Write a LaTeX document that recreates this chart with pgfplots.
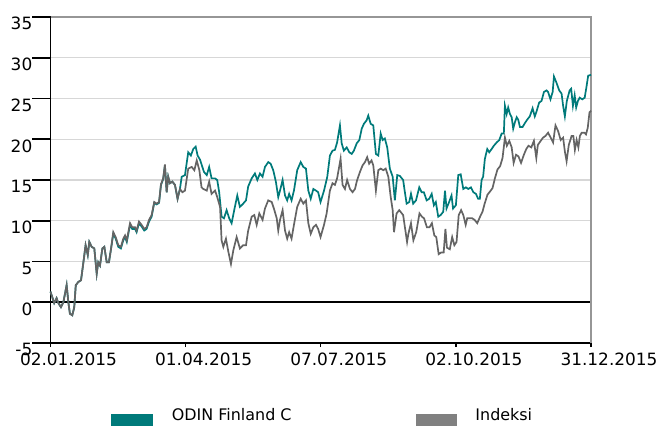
\documentclass[border=0pt]{standalone}
\usepackage{pgfplots}
\usepackage{pgfplotstable}
\pgfplotsset{compat=1.18}
\usepackage{fontspec}
\setmainfont{DejaVu Sans}
\definecolor{odin}{RGB}{0,122,122}
\definecolor{idx}{RGB}{100,100,100}
\definecolor{idxleg}{RGB}{128,128,128}
\definecolor{gridc}{RGB}{215,215,215}
\definecolor{borderc}{RGB}{150,150,150}

\pgfplotstableread{
i v
0 1.3
1.7 -0.1
2.8 0.5
3.6 -0.1
4.8 -0.6
5.9 0.0
7.4 2.1
8.2 0.0
8.9 -1.4
10 -1.6
10.9 -0.6
11.6 2.1
12.8 2.5
14 2.7
15 4.7
16.1 7.0
17.1 5.8
17.8 7.4
18.9 6.8
20.1 6.6
21.2 3.5
21.9 4.9
22.7 4.5
23.8 6.6
24.7 6.8
25.8 4.9
26.8 4.9
27.8 6.6
28.8 8.4
29.9 7.8
31.1 6.8
32.3 6.6
33.4 7.6
34.2 8.0
35 7.4
36.5 9.5
37.5 9.0
38.8 9.0
39.5 8.6
40.6 9.7
41.8 9.3
43 8.8
44.1 9.0
45.2 9.9
46.4 10.5
47.6 12.2
48.7 12.0
49.8 12.2
50.7 14.4
51.7 15.1
52.5 16.8
53.3 13.5
54 15.4
54.8 14.6
55.9 14.8
57.1 14.4
58.3 12.7
59.4 13.9
60.2 15.4
61.7 15.6
63.2 18.4
64.4 18.0
65.5 18.8
66.6 19.1
67.5 18.0
68.6 17.5
70.4 16.0
71.7 15.6
72.8 16.6
73.9 15.2
75.5 15.2
76.5 15.0
77.4 13.5
78.5 10.5
79.6 10.3
80.8 11.3
82 10.3
83.1 9.7
84.6 11.7
85.7 13.1
86.9 11.7
88.4 12.1
89.7 12.5
90.7 14.2
92.3 15.2
93.8 15.8
94.9 15.0
96.1 15.8
97.3 15.4
98.4 16.6
99.9 17.2
101 17.0
102.2 16.2
103.4 14.8
104.5 12.9
105.3 13.7
106.5 15.0
107.6 13.1
108.6 12.5
109.5 13.3
110.6 12.5
111.7 13.7
113.2 16.2
114.8 17.2
116 16.6
117.2 16.4
118.3 13.7
119.4 12.7
120.6 13.9
121.8 13.7
122.8 13.5
123.9 12.3
125.5 13.7
127 15.4
128.2 18.0
129.4 18.6
130.5 18.7
131.5 19.6
132.8 21.7
133.6 19.5
134.6 18.6
135.9 19.0
137.1 18.4
138.2 18.2
139.2 18.6
140.5 19.5
141.7 19.9
142.8 21.3
143.8 21.9
145 22.3
145.8 22.9
146.9 21.9
148.1 21.7
149.3 18.2
150.4 18.0
151.5 20.7
152.4 19.9
153.4 20.1
154.5 19.0
155.7 16.4
157 15.4
158 12.5
159.1 15.6
160.3 15.5
161.8 15.0
162.6 13.5
163.4 12.1
164.6 12.3
165.4 13.3
166.4 12.1
167.7 12.5
169.2 14.1
170.3 13.5
171.3 13.5
172.6 12.5
173.8 12.7
174.9 13.3
175.9 11.9
176.8 12.3
177.9 10.5
179 10.7
180.2 11.1
181 13.7
181.7 11.5
182.9 12.3
184 13.1
184.7 11.5
186 11.9
187.1 15.6
188.2 15.7
189.4 13.9
190.6 14.1
191.7 13.9
192.9 14.1
194 13.5
195.2 13.3
196.2 12.7
197 12.7
197.8 15.0
198.5 15.4
199.3 17.6
200.4 18.8
201.3 18.4
202.4 18.8
203.4 19.2
204.7 19.6
205.9 19.9
207 20.7
208 20.7
208.5 24.1
209.3 23.1
210 23.9
210.8 23.1
211.6 22.7
212.3 21.3
213.1 22.1
213.9 22.7
214.6 22.4
215.4 21.5
216.6 21.5
217.7 22.0
218.7 22.4
219.9 22.8
221.2 23.8
222.2 22.8
223 23.4
224.2 24.5
225.3 24.7
226.4 25.8
227.6 26.0
228.3 25.8
229.4 24.9
230.4 25.8
231 27.7
232.2 26.9
233.4 26.0
234.5 25.6
235.2 24.1
236 22.8
236.9 24.7
238.2 26.0
238.9 26.2
239.7 24.1
240.5 25.4
241.2 23.9
242 24.7
242.8 25.1
244 24.9
245.1 25.1
245.9 26.4
246.7 27.8
248 27.9
}\odintable

\pgfplotstableread{
i v
0 1.3
1.7 -0.1
2.8 0.5
3.6 -0.1
4.8 -0.6
5.9 0.0
7.4 2.1
8.2 0.0
8.9 -1.4
10 -1.6
10.9 -0.6
11.6 2.1
12.8 2.5
14 2.7
15 4.7
16.1 7.0
17.1 5.8
17.8 7.4
18.9 6.8
20.1 6.6
21.2 3.5
21.9 4.9
22.7 4.5
23.8 6.6
24.7 6.8
25.8 4.9
26.8 4.9
27.8 6.6
28.8 8.6
29.9 8.0
31.1 7.0
32.3 6.8
33.4 7.8
34.2 8.2
35 7.6
36.5 9.7
37.5 9.2
38.8 9.2
39.5 8.8
40.6 9.9
41.8 9.5
43 9.0
44.1 9.2
45.2 10.1
46.4 10.7
47.6 12.3
48.7 12.1
49.8 12.3
50.7 14.5
51.7 15.2
52.5 16.9
53.3 13.5
54 15.4
54.8 14.6
55.9 14.8
57.1 14.4
58.3 12.7
59.4 13.9
60.5 13.5
61.7 13.7
63.2 16.4
64.8 16.6
66 16.2
67.1 17.4
68.3 16.2
69.3 14.1
70.1 13.9
71.7 13.7
72.8 14.8
73.9 13.3
75.5 13.7
76.5 12.9
77.8 11.7
78.5 7.6
79.3 6.8
80.5 7.8
81.6 6.2
82.8 4.7
83.9 6.4
85.4 8.0
86.9 6.6
88.4 7.0
89.7 7.0
90.7 8.8
92.3 10.5
93.5 10.7
94.6 9.5
95.8 10.9
97.3 10.1
98.4 11.5
99.9 12.5
101.5 12.3
102.5 11.5
103.8 10.3
104.5 8.8
105.3 10.1
106.5 11.3
107.6 8.8
108.6 7.8
109.5 8.6
110.6 7.8
111.7 9.5
113.2 11.7
114.8 12.7
116 12.1
117.2 12.5
118.3 9.7
119.4 8.4
120.6 9.2
121.8 9.5
122.8 9.0
123.9 8.0
125.5 9.5
126.7 10.9
128.2 13.7
129.4 14.6
130.5 14.4
131.5 15.2
133.1 17.6
134 14.4
135.1 13.9
136.1 15.0
137.4 13.9
138.6 13.5
139.7 13.9
140.7 15.0
142 16.0
143.2 16.8
144.3 17.2
145.3 17.8
146.2 17.0
147.3 17.4
148.1 16.8
149.3 13.7
150.4 16.2
151.5 16.4
152.7 16.2
153.8 16.4
155 15.4
156.1 12.9
157 11.3
157.6 8.6
158.8 10.9
160 11.3
161.8 10.7
163.6 7.4
164.2 8.4
165.4 9.7
166.5 7.6
167.8 8.6
169.3 10.9
170.4 10.5
171.4 10.3
172.7 9.2
173.9 9.2
175 9.7
176.1 8.2
177 8.0
178.1 5.9
179.2 6.1
180.4 6.1
181.2 9.0
181.9 6.7
183.2 6.5
184.3 8.0
185.3 7.0
186.3 7.4
187.3 10.7
188.4 11.3
189.4 10.7
190.5 9.5
191.2 10.3
192.4 10.3
193.5 10.3
194.6 10.1
195.8 9.7
197.1 10.5
198.2 11.1
199.2 12.1
200.5 13.2
201.7 13.6
202.8 14.0
203.9 15.2
205.1 16.3
206.3 16.7
207.4 17.7
208.5 20.2
209.4 19.2
210.5 19.8
211.6 19.0
212.5 17.1
213.6 18.1
214.7 17.9
215.9 17.1
217.2 18.1
218.3 18.8
219.3 19.2
220.6 19.0
221.8 19.8
222.9 17.7
223.6 19.3
224.9 19.8
226 20.2
227.1 20.4
228.3 20.8
229.5 20.2
230.6 19.6
231.7 21.7
232.9 21.0
234.1 19.9
235.2 20.2
236 18.5
236.8 17.3
237.8 19.3
239.1 20.4
239.9 20.4
240.6 18.7
241.4 19.9
242.2 19.0
242.9 20.4
243.7 20.8
245 20.8
245.7 20.6
246.5 21.4
247.3 23.3
248 23.5
}\idxtable

\begin{document}
\begin{tikzpicture}[x=1bp,y=1bp]
\path[use as bounding box] (0,0) rectangle (659,425);
\begin{axis}[
  at={(50.5bp,82bp)}, anchor=south west,
  scale only axis, width=540.5bp, height=326bp,
  xmin=0, xmax=248, ymin=-5, ymax=35,
  separate axis lines,
  axis x line*=bottom, axis y line*=left,
  axis line style={black, line width=1.6bp, -},
  xtick={0,62,124,186,248},
  xticklabels={02.01.2015,01.04.2015,07.07.2015,02.10.2015,31.12.2015},
  ytick={-5,0,5,10,15,20,25,30,35},
  yticklabels={-5,0,5,10,15,20,25,30,35},
  tick align=outside,
  major tick length=18bp,
  xtick style={black, line width=1.4bp, /pgfplots/major tick length=4bp},
  ytick style={black, line width=1.6bp},
  ymajorgrids,
  major grid style={gridc, line width=1.3bp},
  extra y ticks={0},
  extra y tick labels={},
  extra y tick style={grid=major, major grid style={black, line width=1.6bp}, tick style={draw=none}},
  yticklabel style={anchor=north east, inner sep=0pt, font=\fontsize{17}{17}\selectfont},
  xticklabel style={anchor=north, inner sep=0pt, xshift=18bp, yshift=8bp, font=\fontsize{17}{17}\selectfont},
  legend style={at={(0.1119,-0.2018)}, anchor=north west, draw=none, fill=none,
    inner sep=0pt, outer sep=0pt, legend columns=2,
    font=\fontsize{16}{16}\selectfont,
    nodes={inner sep=0pt},
    /tikz/every odd column/.style={column sep=19.5bp},
    /tikz/every even column/.style={column sep=124bp}},
  legend cell align=left,
  clip=false,
]
\addlegendimage{legend image code/.code={\fill[odin] (0bp,-10bp) rectangle (41bp,1bp);}}
\addlegendentry{ODIN Finland C}
\addlegendimage{legend image code/.code={\fill[idxleg] (0bp,-10bp) rectangle (40bp,1bp);}}
\addlegendentry{Indeksi}
\draw[borderc, line width=1.3bp] (rel axis cs:0,1) -- (rel axis cs:1,1) -- (rel axis cs:1,0);
\addplot[odin, line width=1.7bp, forget plot] table[x=i, y=v] {\odintable};
\addplot[idx, line width=1.7bp, forget plot] table[x=i, y=v] {\idxtable};
\end{axis}
\end{tikzpicture}
\end{document}
